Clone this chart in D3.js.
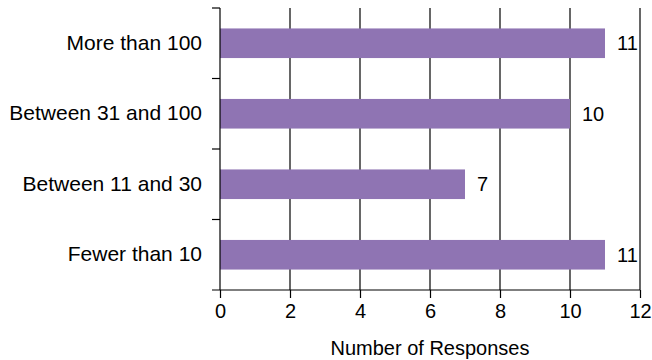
<!DOCTYPE html>
<html>
<head>
<meta charset="utf-8">
<script src="https://cdn.jsdelivr.net/npm/d3@7"></script>
<style>
  body { margin: 0; background: #fff; }
  text { font-family: "Liberation Sans", Arial, Helvetica, sans-serif; fill: #000; }
</style>
</head>
<body>
<script>
// Survey responses, top bar first.
var categories = ['More than 100', 'Between 31 and 100', 'Between 11 and 30', 'Fewer than 10'],
    counts = [11, 10, 7, 11],
    xTicks = [0, 2, 4, 6, 8, 10, 12],
    xTitle = 'Number of Responses';

var width = 652,
    height = 360,
    margin = { top: 8, right: 12, bottom: 70, left: 220 },
    innerW = width - margin.left - margin.right,
    innerH = height - margin.top - margin.bottom;

var svg = d3.select('body').append('svg')
  .attr('width', width)
  .attr('height', height);

var g = svg.append('g')
  .attr('transform', 'translate(' + margin.left + ',' + margin.top + ')');

var x = d3.scaleLinear().domain([0, 12]).range([0, innerW]);

var y = d3.scaleBand()
  .domain(categories)
  .range([0, innerH])
  .paddingInner(0.58)
  .paddingOuter(0.29);

// Band boundaries for the y axis ticks.
var yEdges = d3.scaleLinear().domain([0, categories.length]).range([0, innerH]);

// Vertical grid lines.
g.selectAll('.grid')
  .data(xTicks.slice(1))
  .enter().append('line')
  .attr('x1', function (d) { return x(d); })
  .attr('x2', function (d) { return x(d); })
  .attr('y1', 0)
  .attr('y2', innerH)
  .attr('stroke', '#000')
  .attr('stroke-width', 1.2);

// Bars.
g.selectAll('.bar')
  .data(counts)
  .enter().append('rect')
  .attr('x', 0)
  .attr('y', function (d, i) { return y(categories[i]); })
  .attr('width', function (d) { return x(d); })
  .attr('height', y.bandwidth())
  .attr('fill', '#8f74b3');

// Value labels.
g.selectAll('.value')
  .data(counts)
  .enter().append('text')
  .attr('x', function (d) { return x(d) + 12; })
  .attr('y', function (d, i) { return y(categories[i]) + y.bandwidth() / 2; })
  .attr('dy', '0.35em')
  .style('font-size', '20px')
  .text(function (d) { return d; });

// X axis.
var xAxis = g.append('g')
  .attr('transform', 'translate(0,' + innerH + ')')
  .call(d3.axisBottom(x).tickValues(xTicks).tickSize(8).tickPadding(6).tickSizeOuter(0));
xAxis.select('.domain').attr('d', 'M-8,0H' + innerW).attr('stroke-width', 1.2);
xAxis.selectAll('.tick line').attr('stroke-width', 1.2);
xAxis.selectAll('text').style('font-size', '20px').attr('fill', '#000');

// Y axis: labels at band centres, ticks at band edges.
var yAxis = g.append('g')
  .call(d3.axisLeft(y).tickSize(0).tickPadding(18));
yAxis.select('.domain').remove();
yAxis.selectAll('text').style('font-size', '21px').attr('fill', '#000');

g.append('line')
  .attr('x1', 0).attr('x2', 0)
  .attr('y1', 0).attr('y2', innerH)
  .attr('stroke', '#000')
  .attr('stroke-width', 1.2);

g.selectAll('.ytick')
  .data(d3.range(categories.length))
  .enter().append('line')
  .attr('x1', -8).attr('x2', 0)
  .attr('y1', function (d) { return yEdges(d); })
  .attr('y2', function (d) { return yEdges(d); })
  .attr('stroke', '#000')
  .attr('stroke-width', 1.2);

// Axis title.
g.append('text')
  .attr('x', innerW / 2)
  .attr('y', innerH + 65)
  .attr('text-anchor', 'middle')
  .style('font-size', '20px')
  .text(xTitle);
</script>
</body>
</html>
